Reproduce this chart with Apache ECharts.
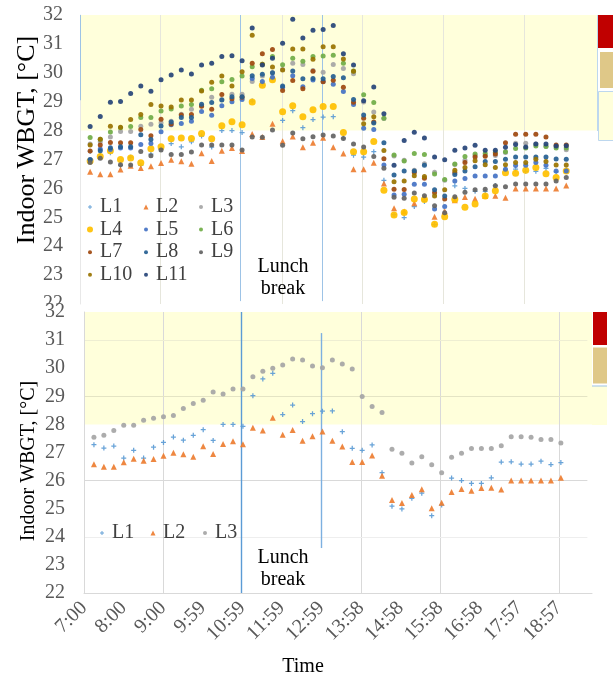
<!DOCTYPE html>
<html>
<head>
<meta charset="utf-8">
<title>Indoor WBGT</title>
<script src="https://cdn.jsdelivr.net/npm/echarts@6/dist/echarts.min.js"></script>
<style>
  html, body { margin: 0; padding: 0; background: #fff; }
  #chart { width: 613px; height: 679px; }
</style>
</head>
<body>
<div id="chart"></div>
<script>
// measuring times, every 15 min
const times = ['7:15', '7:30', '7:45', '8:00', '8:15', '8:30', '8:45', '9:00', '9:15', '9:30', '9:45', '10:00',
  '10:15', '10:30', '10:45', '11:00', '11:15', '11:30', '11:45', '12:00', '12:15', '12:30', '12:45', '13:00',
  '13:15', '13:30', '13:45', '14:00', '14:15', '14:30', '14:45', '15:00', '15:15', '15:30', '15:45', '16:00',
  '16:15', '16:30', '16:45', '17:00', '17:15', '17:30', '17:45', '18:00', '18:15', '18:30', '18:45', '19:00']

// x tick labels (excel drifts a bit each hour)
const tickLabels = ['7:00', '8:00', '9:00', '9:59', '10:59', '11:59', '12:59', '13:58', '14:58', '15:58', '16:58', '17:57', '18:57']
const yTicks = { min: 22, max: 32, step: 1 }

// indoor WBGT per location [°C]
const L1 = [27.28, 27.16, 27.23, 26.80, 27.08, 26.80, 27.19, 27.36, 27.55, 27.44, 27.61, 27.81, 27.43, 28.00, 28.00, 27.93,
  29.02, 29.62, 29.82, 28.35, 28.69, 28.10, 28.38, 28.47, 28.48, 27.74, 27.15, 27.08, 27.27, 26.28, 25.09, 24.99,
  25.37, 25.55, 24.75, 25.13, 26.09, 26.00, 25.90, 25.90, 26.10, 26.66, 26.67, 26.59, 26.59, 26.69, 26.57, 26.64]
const L2 = [26.58, 26.49, 26.49, 26.65, 26.78, 26.71, 26.77, 26.88, 26.99, 26.94, 26.85, 27.22, 26.95, 27.30, 27.40, 27.29,
  27.88, 27.78, 28.24, 27.63, 27.80, 27.42, 27.58, 27.75, 27.42, 27.21, 26.66, 26.66, 26.89, 26.17, 25.31, 25.20,
  25.49, 25.69, 25.02, 25.21, 25.59, 25.70, 25.64, 25.74, 25.75, 25.68, 26.00, 26.00, 26.00, 26.00, 26.00, 26.10]
const L3 = [27.54, 27.61, 27.78, 27.97, 27.97, 28.15, 28.22, 28.27, 28.32, 28.57, 28.74, 28.86, 29.15, 29.08, 29.26, 29.26,
  29.70, 29.89, 30.00, 30.11, 30.33, 30.29, 30.08, 30.02, 30.29, 30.15, 29.97, 28.99, 28.64, 28.42, 27.12, 26.97,
  26.63, 26.85, 26.56, 26.28, 26.83, 26.97, 27.14, 27.14, 27.14, 27.24, 27.56, 27.56, 27.54, 27.46, 27.46, 27.34]
const L4 = [26.95, 27.10, 27.30, 27.00, 27.05, 26.89, 27.37, 27.44, 27.72, 27.74, 27.73, 27.90, 27.72, 28.17, 28.31, 28.20,
  28.99, 29.57, 29.76, 28.65, 28.86, 28.48, 28.72, 28.83, 28.83, 27.93, 27.27, 27.27, 27.62, 25.94, 25.08, 25.17,
  25.63, 25.62, 24.76, 25.02, 25.62, 25.35, 25.46, 25.74, 25.92, 26.54, 26.52, 26.63, 26.72, 26.51, 26.38, 26.60]
const L5 = [27.00, 27.36, 27.35, 27.40, 27.40, 27.52, 27.55, 27.96, 28.20, 28.25, 28.32, 28.66, 28.53, 28.86, 29.00, 29.08,
  29.80, 29.70, 29.85, 29.50, 29.90, 29.52, 29.75, 29.70, 29.60, 29.35, 28.90, 28.08, 28.04, 26.81, 25.77, 25.80,
  26.14, 26.14, 25.29, 25.37, 26.26, 26.34, 26.43, 26.43, 26.43, 26.66, 26.79, 26.80, 26.90, 26.80, 26.60, 26.60]
const L6 = [27.76, 27.70, 27.95, 28.10, 28.14, 28.45, 28.45, 28.68, 28.75, 28.85, 28.90, 29.40, 29.45, 29.69, 29.77, 29.89,
  30.21, 30.30, 30.56, 30.28, 30.50, 30.40, 30.56, 30.58, 30.61, 30.33, 30.06, 29.24, 28.97, 28.43, 27.16, 26.95,
  27.21, 27.17, 26.50, 26.31, 26.84, 27.10, 27.19, 27.21, 27.25, 27.27, 27.38, 27.40, 27.47, 27.45, 27.40, 27.40]
const L7 = [27.29, 27.50, 27.59, 27.58, 27.58, 28.04, 27.82, 28.39, 28.23, 28.54, 28.56, 28.84, 28.74, 29.25, 29.10, 29.15,
  30.33, 30.66, 30.81, 29.39, 29.73, 29.45, 30.05, 29.69, 29.74, 29.50, 28.98, 28.43, 28.30, 27.03, 25.97, 25.96,
  26.55, 26.35, 25.85, 25.63, 26.55, 26.90, 27.09, 27.11, 27.19, 27.58, 27.87, 27.87, 27.87, 27.78, 27.50, 27.50]
const L8 = [26.99, 27.30, 27.41, 27.44, 27.44, 27.86, 27.69, 28.16, 28.30, 28.45, 28.45, 28.91, 28.97, 29.06, 29.17, 29.17,
  29.90, 29.95, 30.00, 29.54, 30.06, 29.79, 29.80, 29.79, 29.87, 29.83, 29.08, 28.54, 28.26, 27.58, 26.46, 26.60,
  26.60, 26.80, 25.95, 25.74, 26.48, 26.60, 26.75, 26.93, 26.93, 27.01, 27.09, 27.09, 27.09, 27.09, 27.02, 27.01]
const L9 = [26.90, 27.04, 26.91, 26.82, 26.81, 27.28, 27.13, 27.33, 27.17, 27.17, 27.26, 27.50, 27.50, 27.50, 27.50, 27.33,
  27.78, 27.77, 28.02, 27.49, 27.92, 27.72, 27.79, 27.85, 27.81, 27.73, 27.54, 27.43, 27.10, 26.70, 25.69, 25.66,
  25.84, 25.75, 25.40, 25.16, 25.71, 25.87, 25.95, 25.97, 26.09, 26.06, 26.15, 26.15, 26.15, 26.15, 26.26, 26.38]
const L10 = [27.50, 27.70, 28.15, 28.12, 28.38, 28.56, 28.90, 28.85, 28.82, 29.06, 29.06, 29.37, 29.67, 29.89, 29.54, 30.04,
  31.30, 30.30, 30.20, 30.10, 30.82, 30.82, 30.47, 30.90, 30.90, 30.48, 30.05, 28.24, 28.48, 27.31, 26.23, 26.26,
  26.44, 26.41, 25.74, 25.95, 26.63, 26.72, 26.96, 26.82, 26.72, 26.82, 26.90, 26.90, 27.01, 26.93, 26.81, 26.81]
const L11 = [28.14, 28.49, 28.98, 29.01, 29.28, 29.54, 29.36, 29.76, 29.92, 30.10, 29.96, 30.27, 30.33, 30.56, 30.59, 30.42,
  31.55, 30.27, 30.50, 31.02, 31.85, 31.20, 31.47, 31.50, 31.64, 30.66, 30.27, 29.03, 29.51, 28.58, 26.80, 27.66,
  27.94, 27.74, 27.09, 26.99, 27.32, 27.40, 27.49, 27.32, 27.32, 27.42, 27.52, 27.43, 27.54, 27.54, 27.47, 27.48]

const topNames = ['L1', 'L2', 'L3', 'L4', 'L5', 'L6', 'L7', 'L8', 'L9', 'L10', 'L11']
const topData = [L1, L2, L3, L4, L5, L6, L7, L8, L9, L10, L11]
const bottomNames = ['L1', 'L2', 'L3']
const bottomData = [L1, L2, L3]

// lunch break marks and the warning band
const lunchBreak = ['10:57', '12:58']
const warnFrom = 28

// axis: minutes after 7:00, excel major unit ~59.76 min
const TICK = 59.76
const X_MAX = 767
const toX = (t) => {
  const [h, m] = t.split(':').map(Number)
  return (h - 7) * 60 + m
}

const serif = '"Liberation Serif", "Times New Roman", serif'

const marks = {
  L1: { color: '#5B9BD5', symbol: 'path://M3,0H5V3H8V5H5V8H3V5H0V3H3Z', size: 5, legend: 4 },
  L2: { color: '#ED7D31', symbol: 'triangle', size: 6, legend: 5 },
  L3: { color: '#A5A5A5', symbol: 'circle', size: 5, legend: 4 },
  L4: { color: '#FFC000', symbol: 'circle', size: 7, legend: 6 },
  L5: { color: '#4472C4', symbol: 'circle', size: 5, legend: 4 },
  L6: { color: '#70AD47', symbol: 'circle', size: 5, legend: 4 },
  L7: { color: '#9E480E', symbol: 'circle', size: 5, legend: 4 },
  L8: { color: '#255E91', symbol: 'circle', size: 5, legend: 4 },
  L9: { color: '#636363', symbol: 'circle', size: 5, legend: 4 },
  L10: { color: '#997300', symbol: 'circle', size: 5, legend: 4 },
  L11: { color: '#264478', symbol: 'circle', size: 5, legend: 4 }
}

function vLine (x, color, from, to, width) {
  const lineStyle = { color, width: width || 1, type: 'solid', opacity: 1 }
  return [{ coord: [x, from], lineStyle }, { coord: [x, to], lineStyle }]
}
function hLine (y, color) {
  const lineStyle = { color, width: 1, type: 'solid' }
  return [{ coord: [0, y], lineStyle }, { coord: [760, y], lineStyle }]
}

const lunchX = lunchBreak.map(toX)

const topLines = [
  ...[2, 5, 7, 9, 11].map(k => vLine(k * TICK, '#E6E6DC', 22, 32)),
  vLine(lunchX[0], '#9DC3E6', 22.1, 32),
  vLine(lunchX[1], '#9DC3E6', 22.1, 32),
  vLine(0, '#9DC3E6', 29.05, 32)
]
const bottomLines = [
  ...[2, 7, 9, 12].map(k => vLine(k * TICK, '#D9D9D9', 22, 32)),
  hLine(24, '#EEEEEE'),
  hLine(26, '#D9D9D9'),
  hLine(29, '#E4E4C4'),
  hLine(31, '#EEEED2'),
  vLine(lunchX[0], '#5B9BD5', 22, 32, 1.4),
  vLine(lunchX[1], '#7DB0E0', 23.6, 31.25, 1.4),
  vLine(0, '#5B9BD5', warnFrom, 32)
]

function makeSeries (names, data, axis, lines) {
  return names.map((name, i) => {
    const s = {
      name,
      type: 'scatter',
      xAxisIndex: axis,
      yAxisIndex: axis,
      symbol: marks[name].symbol,
      symbolSize: marks[name].size,
      itemStyle: { color: marks[name].color, opacity: 0.92 },
      data: data[i].map((v, k) => [toX(times[k]), v])
    }
    if (i === 0) {
      s.markArea = {
        silent: true,
        z: 0,
        itemStyle: { color: '#FFFFDB' },
        data: [[{ yAxis: warnFrom }, { yAxis: yTicks.max }]]
      }
      s.markLine = {
        silent: true,
        z: 1,
        symbol: ['none', 'none'],
        label: { show: false },
        lineStyle: { color: '#5B9BD5', type: 'solid' },
        data: lines
      }
    }
    return s
  })
}

// legends, one per item so the columns line up like excel
// marker centred on mx, text starting at mx + 10
const legendItem = (name, mx, rowY) => {
  const w = marks[name].legend
  return {
    data: [name], left: mx - w / 2, top: rowY - 10, padding: 0,
    itemWidth: w, itemHeight: w, selectedMode: false,
    textStyle: { fontFamily: serif, fontSize: 20, color: '#404040', lineHeight: 20, padding: [0, 0, 0, 5 - w / 2] }
  }
}
const topRows = [['L1', 'L2', 'L3'], ['L4', 'L5', 'L6'], ['L7', 'L8', 'L9'], ['L10', 'L11']]
const topCols = [90, 146, 201]
const legends = []
topRows.forEach((row, r) => {
  row.forEach((name, c) => legends.push(legendItem(name, topCols[c], 207 + r * 22.6)))
})
;[102, 153, 205].forEach((mx, c) => legends.push(legendItem(bottomNames[c], mx, 533)))

const xLabel = (v) => {
  const k = Math.round(v / TICK)
  return Math.abs(v - k * TICK) < 0.5 ? (tickLabels[k] || '') : ''
}

function txt (text, x, y, size, rot) {
  return {
    type: 'text', x, y, rotation: rot || 0, z: 5,
    style: {
      text, font: size + 'px ' + serif, fill: '#000', lineHeight: 22,
      align: 'center', verticalAlign: 'middle', textAlign: 'center', textVerticalAlign: 'middle'
    }
  }
}
function box (x, y, w, h, fill, stroke) {
  return { type: 'rect', z: 5, shape: { x, y, width: w, height: h }, style: { fill, stroke: stroke || null, lineWidth: 1 } }
}

const myChart = echarts.init(document.getElementById('chart'))
const option = {
  backgroundColor: '#fff',
  animation: false,
  grid: [
    { left: 80, top: 15, width: 518, height: 289, outerBoundsMode: 'none' },
    { left: 84, top: 312, width: 508, height: 281, outerBoundsMode: 'none' }
  ],
  xAxis: [
    {
      type: 'value', gridIndex: 0, min: 0, max: X_MAX, interval: TICK,
      axisLine: { show: false }, axisTick: { show: false }, axisLabel: { show: false }, splitLine: { show: false }
    },
    {
      type: 'value', gridIndex: 1, min: 0, max: X_MAX, interval: TICK, z: 3,
      axisLine: { show: true, lineStyle: { color: '#D9D9D9' } },
      axisTick: { show: false },
      splitLine: { show: false },
      axisLabel: { rotate: 45, margin: 12, color: '#595959', fontFamily: serif, fontSize: 20, formatter: xLabel, showMaxLabel: false }
    }
  ],
  yAxis: [
    {
      type: 'value', gridIndex: 0, min: yTicks.min, max: yTicks.max, interval: yTicks.step,
      axisLine: { show: true, lineStyle: { color: '#E8E8E8' } },
      axisTick: { show: false }, splitLine: { show: false },
      axisLabel: { margin: 17, color: '#595959', fontFamily: serif, fontSize: 20 }
    },
    {
      type: 'value', gridIndex: 1, min: yTicks.min, max: yTicks.max, interval: yTicks.step, z: 3,
      axisLine: { show: true, lineStyle: { color: '#D9D9D9' } },
      axisTick: { show: false }, splitLine: { show: false },
      axisLabel: { margin: 19, color: '#595959', fontFamily: serif, fontSize: 20 }
    }
  ],
  legend: legends,
  series: [
    ...makeSeries(topNames, topData, 0, topLines),
    ...makeSeries(bottomNames, bottomData, 1, bottomLines)
  ],
  graphic: [
    // bottom chart sits over the lower edge of the top one
    { type: 'rect', z: 1, shape: { x: 0, y: 305.5, width: 613, height: 6 }, style: { fill: '#fff' } },
    txt('Indoor WBGT, [°C]', 27, 140, 26, Math.PI / 2),
    txt('Indoor WBGT, [°C]', 29, 461, 20, Math.PI / 2),
    txt('Time', 303, 667, 20),
    txt('Lunch\nbreak', 283, 277.5, 20),
    txt('Lunch\nbreak', 283, 569, 20),
    // cut-off legend swatches on the right
    { type: 'line', z: 5, shape: { x1: 597.5, y1: 15, x2: 597.5, y2: 131 }, style: { stroke: '#BDD7EE', lineWidth: 1 } },
    box(598, 15, 15, 33, '#C00000'),
    box(600, 52, 13, 36, '#DFC888'),
    box(598.5, 91.5, 15, 49, '#FFFFDB', '#BDD7EE'),
    box(593, 312, 14, 33, '#C00000'),
    box(593, 347.5, 14, 36, '#DFC888'),
    box(592, 386, 15, 39, '#FFFFDB'),
    { type: 'line', z: 5, shape: { x1: 592, y1: 386, x2: 607, y2: 386 }, style: { stroke: '#9DC3E6', lineWidth: 1 } }
  ]
}
myChart.setOption(option)
</script>
</body>
</html>
